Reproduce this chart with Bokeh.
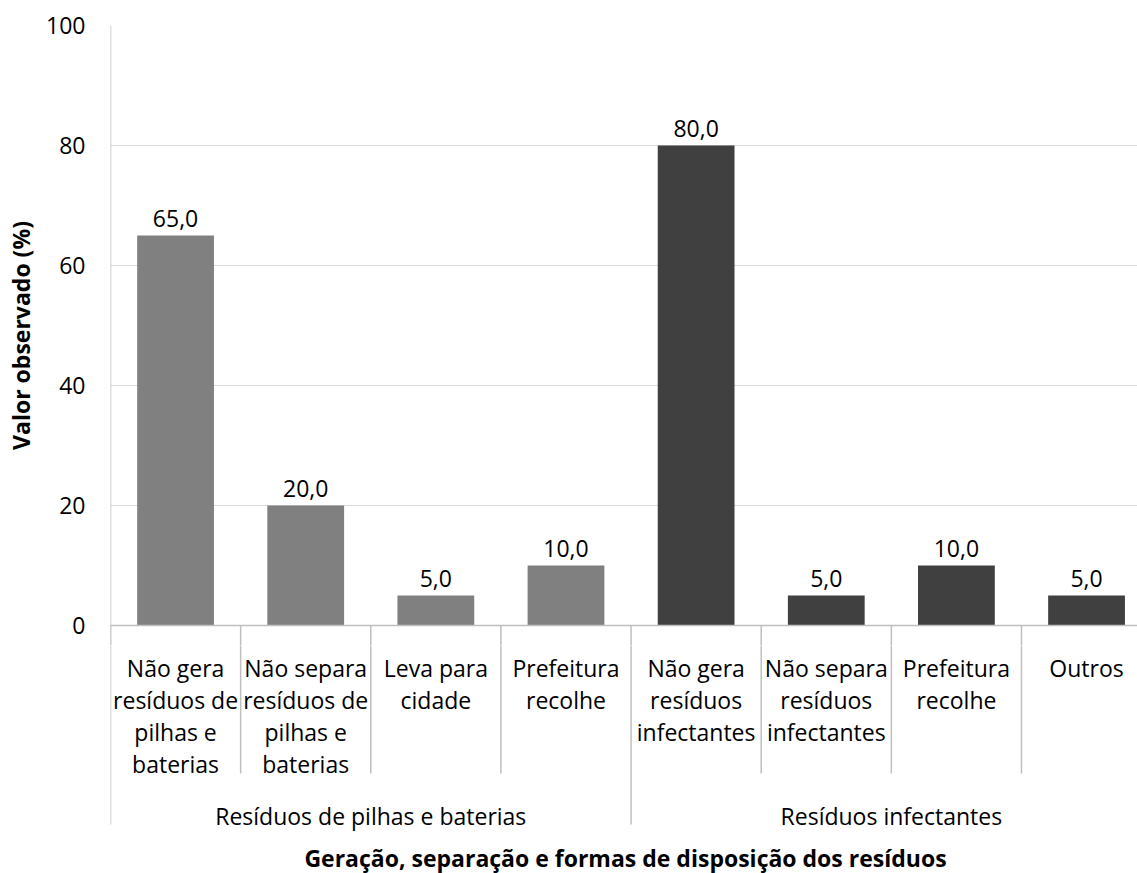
from bokeh.plotting import figure
from bokeh.layouts import column
from bokeh.models import ColumnDataSource, FixedTicker, Range1d, Span
from bokeh.core.properties import value
from bokeh.embed import file_html
from bokeh.resources import INLINE

# ---------------- data ----------------
group_names = ["Resíduos de pilhas e baterias", "Resíduos infectantes"]
group_sizes = [4, 4]
group_colors = ["#808080", "#404040"]
category_labels = [
    "Não gera\nresíduos de\npilhas e\nbaterias",
    "Não separa\nresíduos de\npilhas e\nbaterias",
    "Leva para\ncidade",
    "Prefeitura\nrecolhe",
    "Não gera\nresíduos\ninfectantes",
    "Não separa\nresíduos\ninfectantes",
    "Prefeitura\nrecolhe",
    "Outros",
]
values = [65.0, 20.0, 5.0, 10.0, 80.0, 5.0, 10.0, 5.0]
y_ticks = [0, 20, 40, 60, 80, 100]
grid_ticks = [20, 40, 60, 80, 100]
x_title = "Geração, separação e formas de disposição dos resíduos"
y_title = "Valor observado (%)"

# ---------------- layout constants ----------------
FONT = "Open Sans"
FS = "23px"
W = 1137
H = 873
LEFT = 110          # frame left (px)
TOP = 25            # frame top (px)
ZERO = 625          # y = 0 line (px)
PXU = (ZERO - TOP) / 100.0
XPU = 130.14        # px per category
TOP_H = ZERO + 20   # height of the value panel
BOT_H = H - TOP_H
TEXT = "#000000"
GRID = "#d9d9d9"
AXIS = "#bfbfbf"

n = len(values)
colors = []
for g, size in enumerate(group_sizes):
    colors += [group_colors[g]] * size

xr = Range1d(-0.5, -0.5 + (W - LEFT) / XPU)
y_low = -(TOP_H - ZERO) / PXU

# ================= value panel =================
p = figure(width=W, height=TOP_H, output_backend="svg", toolbar_location=None,
           x_range=xr, y_range=Range1d(y_low, 100),
           min_border_left=LEFT, min_border_right=0, min_border_top=TOP,
           min_border_bottom=0)
p.outline_line_color = None
p.xaxis.visible = False
p.xgrid.visible = False
p.yaxis.ticker = FixedTicker(ticks=y_ticks)
p.ygrid.ticker = FixedTicker(ticks=grid_ticks)
p.ygrid.grid_line_color = GRID
p.ygrid.grid_line_width = 1
p.yaxis.axis_line_color = None
p.yaxis.major_tick_line_color = None
p.yaxis.minor_tick_line_color = None
p.yaxis.major_tick_out = 0
p.yaxis.major_tick_in = 0
p.yaxis.minor_tick_out = 0
p.yaxis.major_label_standoff = 25
p.yaxis.major_label_text_font = FONT
p.yaxis.major_label_text_font_size = FS
p.yaxis.major_label_text_color = TEXT
p.yaxis.axis_label = y_title
p.yaxis.axis_label_text_font = FONT
p.yaxis.axis_label_text_font_size = FS
p.yaxis.axis_label_text_font_style = "bold"
p.yaxis.axis_label_text_color = TEXT
p.yaxis.axis_label_standoff = 6

src = ColumnDataSource(dict(x=list(range(n)), top=values, color=colors,
                            lab=[f"{v:.1f}".replace(".", ",") for v in values],
                            ly=[v + 17 / PXU for v in values]))
p.vbar(x="x", top="top", bottom=0, width=0.59, fill_color="color",
       line_color=None, source=src)
p.text(x="x", y="ly", text="lab", source=src, text_align="center",
       text_baseline="alphabetic", text_font=value(FONT), text_font_size=FS,
       text_color=TEXT)
p.add_layout(Span(location=0, dimension="width", line_color=AXIS, line_width=1.5))
p.segment(x0=[-0.5], y0=[y_low], x1=[-0.5], y1=[100], line_color=AXIS, line_width=1.5)

# ================= category panel (y in px below the zero line) =================
b = figure(width=W, height=BOT_H, output_backend="svg", toolbar_location=None,
           x_range=xr, y_range=Range1d(-(H - ZERO), -(TOP_H - ZERO)),
           min_border_left=LEFT, min_border_right=0, min_border_top=0,
           min_border_bottom=0)
b.outline_line_color = None
b.xaxis.visible = False
b.yaxis.visible = False
b.xgrid.visible = False
b.ygrid.visible = False

# separators (drawn across both panels)
x0, y1 = [], []
start = 0
for size in group_sizes:
    for k in range(1, size):
        x0.append(start + k - 0.5); y1.append(-(773 - ZERO))
    start += size
major = [-0.5]
s = 0
for size in group_sizes:
    s += size
    major.append(s - 0.5)
for xb in major:
    x0.append(xb); y1.append(-(824 - ZERO))
b.segment(x0=x0, y0=[0] * len(x0), x1=x0, y1=y1, line_color=AXIS, line_width=1.5)
p.segment(x0=x0, y0=[0] * len(x0), x1=x0, y1=[y_low] * len(x0), line_color=AXIS,
          line_width=1.5)

# category labels
cx, cy, ct = [], [], []
for i, lab in enumerate(category_labels):
    for j, line in enumerate(lab.split("\n")):
        cx.append(i); cy.append(-(667 - ZERO + 32 * j)); ct.append(line)
b.text(x=cx, y=cy, text=ct, text_align="center", text_baseline="alphabetic",
       text_font=value(FONT), text_font_size=FS, text_color=TEXT)

# group labels
gx = []
s = 0
for size in group_sizes:
    gx.append(s + (size - 1) / 2)
    s += size
b.text(x=gx, y=[-(815 - ZERO)] * len(gx), text=group_names, text_align="center",
       text_baseline="alphabetic", text_font=value(FONT), text_font_size=FS,
       text_color=TEXT)

# x title
b.text(x=[-0.5 + (625 - LEFT) / XPU], y=[-(857 - ZERO)], text=[x_title],
       text_align="center", text_baseline="alphabetic", text_font=value(FONT),
       text_font_size=FS, text_font_style="bold", text_color=TEXT)

layout = column(p, b, spacing=0)
open("out.html", "w").write(file_html(layout, INLINE))
